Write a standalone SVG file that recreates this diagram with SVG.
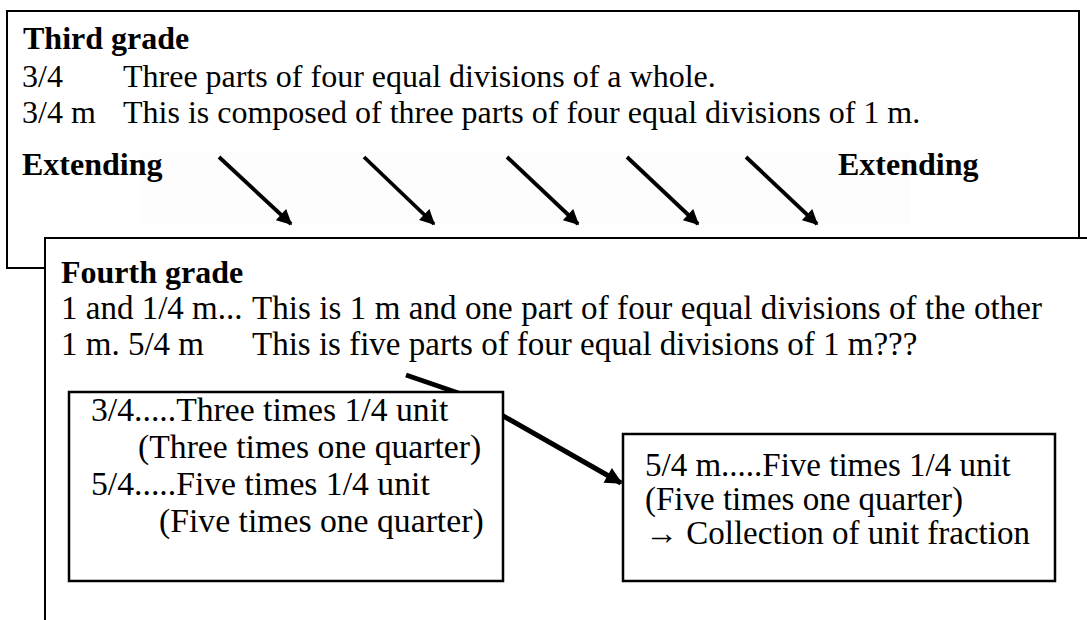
<svg xmlns="http://www.w3.org/2000/svg" width="1087" height="620" viewBox="0 0 1087 620" font-family="'Liberation Serif', 'Times New Roman', Times, serif">
<defs>
<style>
text{font-family:'Liberation Serif','Times New Roman',Times,serif;font-size:32px;fill:#000}
.b{font-weight:bold}
.m{font-size:33px}
.l{font-size:33.7px}
.box{fill:#fff;stroke:#000;stroke-width:2}
.ibox{fill:#fff;stroke:#000;stroke-width:2.5}
.arr{stroke:#000;stroke-width:3.8;fill:none;marker-end:url(#ah)}
.diag{stroke:#000;stroke-width:5;fill:none;stroke-linejoin:round}
</style>
<marker id="ah" viewBox="0 0 10 10" refX="9" refY="5" markerWidth="4.2" markerHeight="4" orient="auto" markerUnits="strokeWidth">
<path d="M0,0 L10,5 L0,10 z" fill="#000"/>
</marker>
<marker id="ah2" viewBox="0 0 10 10" refX="9" refY="5" markerWidth="3.8" markerHeight="3.4" orient="auto" markerUnits="strokeWidth">
<path d="M0,0 L10,5 L0,10 z" fill="#000"/>
</marker>
</defs>
<rect width="1087" height="620" fill="#fff"/>
<g id="third-grade">
<rect class="box" x="7" y="11" width="1072" height="257"/>
<rect x="140" y="152" width="770" height="72" fill="#fdfdfd"/>
<text class="b" x="23" y="49">Third grade</text>
<text x="22" y="87">3/4</text>
<text x="123" y="87">Three parts of four equal divisions of a whole.</text>
<text x="22" y="123">3/4 m</text>
<text x="123" y="123">This is composed of three parts of four equal divisions of 1 m.</text>
<text class="b" x="22" y="175">Extending</text>
<text class="b" x="838" y="175">Extending</text>
</g>
<g id="extend-arrows">
<line class="arr" x1="219" y1="157" x2="291" y2="224"/>
<line class="arr" x1="364" y1="157" x2="434" y2="224"/>
<line class="arr" x1="507" y1="157" x2="578" y2="224"/>
<line class="arr" x1="627" y1="157" x2="698" y2="224"/>
<line class="arr" x1="746" y1="157" x2="817" y2="224"/>
</g>
<g id="fourth-grade">
<rect class="box" x="45" y="238" width="1060" height="400"/>
<text class="b" x="61" y="283">Fourth grade</text>
<text class="m" x="61" y="319">1 and 1/4 m...</text>
<text class="m" x="252" y="319" textLength="790" lengthAdjust="spacing">This is 1 m and one part of four equal divisions of the other</text>
<text class="m" x="61" y="355">1 m. 5/4 m</text>
<text class="m" x="252" y="355">This is five parts of four equal divisions of 1 m???</text>
</g>
<g id="connectors">
<path class="diag" d="M406,375 L470,397 L621,483" marker-end="url(#ah2)"/>
</g>
<g id="unit-box">
<rect class="ibox" x="69" y="392" width="434" height="189"/>
<text class="l" x="91" y="421">3/4.....Three times 1/4 unit</text>
<text class="l" x="138" y="458">(Three times one quarter)</text>
<text class="l" x="91" y="495">5/4.....Five times 1/4 unit</text>
<text class="l" x="159" y="532">(Five times one quarter)</text>
</g>
<g id="collection-box">
<rect class="ibox" x="623" y="434" width="432" height="147"/>
<text class="m" x="645" y="476">5/4 m.....Five times 1/4 unit</text>
<text class="m" x="645" y="510">(Five times one quarter)</text>
<text class="m" x="645" y="544">→ Collection of unit fraction</text>
</g>
</svg>
